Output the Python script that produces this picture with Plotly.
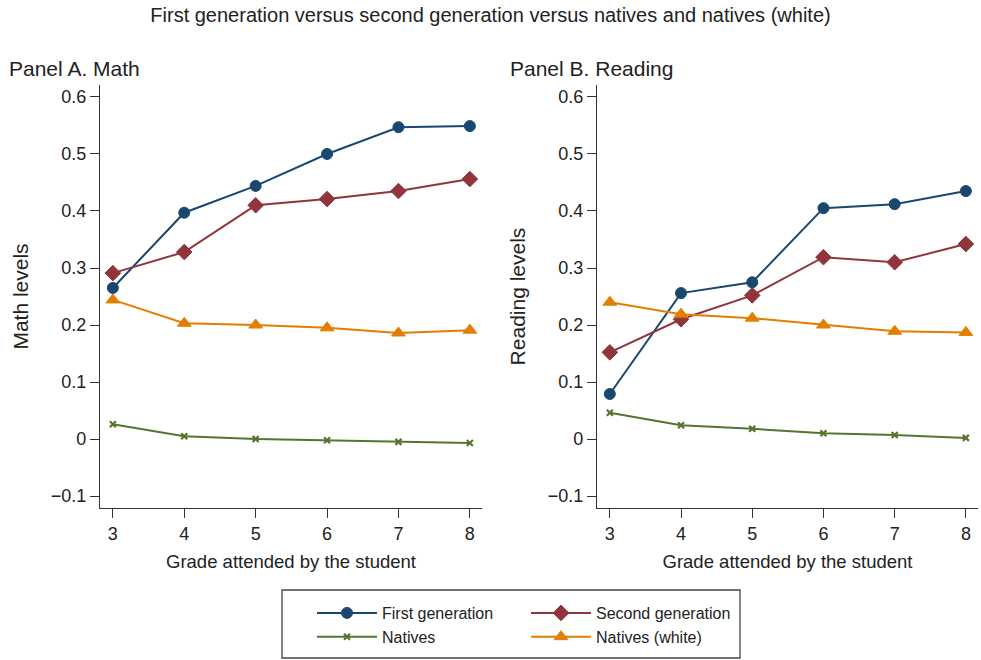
import plotly.graph_objects as go

grades = [3, 4, 5, 6, 7, 8]

math_first = [0.265, 0.397, 0.444, 0.500, 0.547, 0.549]
math_second = [0.291, 0.328, 0.410, 0.421, 0.435, 0.456]
math_natives = [0.026, 0.005, 0.000, -0.002, -0.005, -0.007]
math_white = [0.244, 0.203, 0.200, 0.195, 0.186, 0.191]

read_first = [0.079, 0.256, 0.275, 0.405, 0.412, 0.435]
read_second = [0.152, 0.210, 0.252, 0.319, 0.310, 0.342]
read_natives = [0.046, 0.024, 0.018, 0.010, 0.007, 0.002]
read_white = [0.240, 0.219, 0.212, 0.200, 0.189, 0.187]

ytick_vals = [-0.1, 0, 0.1, 0.2, 0.3, 0.4, 0.5, 0.6]
ytick_text = ["\u22120.1", "0", "0.1", "0.2", "0.3", "0.4", "0.5", "0.6"]

series_names = ["First generation", "Second generation", "Natives", "Natives (white)"]
colors = ["#1a476f", "#90353b", "#55752f", "#e37e00"]
symbols = ["circle", "diamond", "x-thin-open", "triangle-up"]
msizes = [11, 12, 6, 12]
legends = ["legend", "legend2", "legend", "legend2"]

FONT = "Liberation Sans, Arial, sans-serif"
TXT = "#222222"

fig = go.Figure()

panels = [
    ([math_first, math_second, math_natives, math_white], "x", "y", True),
    ([read_first, read_second, read_natives, read_white], "x2", "y2", False),
]
order = [0, 2, 1, 3]
for data, xa, ya, show in panels:
    for i in order:
        fig.add_trace(go.Scatter(
            x=grades, y=data[i], mode="lines+markers", name=series_names[i],
            xaxis=xa, yaxis=ya, showlegend=show, legend=legends[i],
            line=dict(color=colors[i], width=2),
            marker=dict(symbol=symbols[i], size=msizes[i], color=colors[i],
                        line=dict(color=colors[i], width=2.2 if i == 2 else 1)),
        ))

axis_common = dict(
    showline=True, linecolor="#333333", linewidth=1.3, ticks="outside",
    ticklen=9, tickcolor="#333333", tickwidth=1.3, showgrid=False, zeroline=False,
    tickfont=dict(size=18, color=TXT, family=FONT), mirror=False,
)

fig.update_layout(
    width=981, height=660,
    margin=dict(l=0, r=0, t=0, b=0),
    paper_bgcolor="white", plot_bgcolor="white",
    font=dict(family=FONT, color=TXT),
    title=dict(text="First generation versus second generation versus natives and natives (white)",
               x=0.5, xanchor="center", y=1 - 15 / 660, yanchor="middle",
               font=dict(size=20, color=TXT, family=FONT)),
    xaxis=dict(domain=[100 / 981, 482 / 981], range=[2.82, 8.17], tickvals=grades,
               title=dict(text="Grade attended by the student", font=dict(size=18.5), standoff=12),
               anchor="y", **axis_common),
    yaxis=dict(domain=[1 - 508 / 660, 1 - 85 / 660], range=[-0.121, 0.621],
               tickvals=ytick_vals, ticktext=ytick_text,
               title=dict(text="Math levels", font=dict(size=21), standoff=16),
               anchor="x", **axis_common),
    xaxis2=dict(domain=[597 / 981, 978 / 981], range=[2.82, 8.17], tickvals=grades,
                title=dict(text="Grade attended by the student", font=dict(size=18.5), standoff=12),
                anchor="y2", **axis_common),
    yaxis2=dict(domain=[1 - 508 / 660, 1 - 85 / 660], range=[-0.121, 0.621],
                tickvals=ytick_vals, ticktext=ytick_text,
                title=dict(text="Reading levels", font=dict(size=21), standoff=16),
                anchor="x2", **axis_common),
    legend=dict(x=312 / 981, y=1 - 596 / 660, xanchor="left", yanchor="top",
                orientation="v", bgcolor="rgba(0,0,0,0)", borderwidth=0,
                font=dict(size=16, color=TXT, family=FONT), tracegroupgap=0, itemwidth=60),
    legend2=dict(x=526 / 981, y=1 - 596 / 660, xanchor="left", yanchor="top",
                 orientation="v", bgcolor="rgba(0,0,0,0)", borderwidth=0,
                 font=dict(size=16, color=TXT, family=FONT), tracegroupgap=0, itemwidth=60),
    annotations=[
        dict(text="Panel A. Math", x=7 / 981, y=1 - 68 / 660, xref="paper", yref="paper",
             xanchor="left", yanchor="middle", showarrow=False,
             font=dict(size=21, color=TXT, family=FONT)),
        dict(text="Panel B. Reading", x=508 / 981, y=1 - 68 / 660, xref="paper", yref="paper",
             xanchor="left", yanchor="middle", showarrow=False,
             font=dict(size=21, color=TXT, family=FONT)),
    ],
    shapes=[
        dict(type="rect", xref="paper", yref="paper", x0=282 / 981, x1=740 / 981,
             y0=1 - 658 / 660, y1=1 - 590 / 660, line=dict(color="#444444", width=1.3),
             fillcolor="rgba(0,0,0,0)"),
    ],
)

fig.write_html("out.html")
